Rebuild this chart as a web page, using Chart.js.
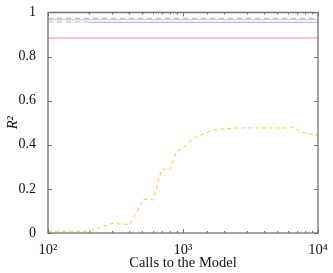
<!DOCTYPE html>
<html>
<head>
<meta charset="utf-8">
<script src="https://cdn.jsdelivr.net/npm/chart.js@4"></script>
<style>
  html, body { margin: 0; padding: 0; background: #fff; }
  #wrap { width: 333px; height: 273px; }
</style>
</head>
<body>
<div id="wrap"><canvas id="r2Chart"></canvas></div>
<script>
// x values (calls to the model) and R^2 for the learned curve
const calls = [100, 205, 296, 405, 508, 603, 695, 801, 898, 1000, 1192, 1413, 1676, 2356, 6200, 6560, 7360, 9230, 10000];
const r2Curve = [0.008, 0.008, 0.043, 0.039, 0.153, 0.150, 0.289, 0.289, 0.37, 0.385, 0.43, 0.448, 0.467, 0.476, 0.476, 0.483, 0.46, 0.445, 0.443];

// horizontal reference levels
const fullRange = [100, 10000];
const refGray = [0.996, 0.996];
const refOrange = [0.973, 0.973];
const refBlue = [0.967, 0.967];
const lavenderDashX = [100, 200];
const refLavenderDash = [0.957, 0.957];
const lavenderSolidX = [200, 10000];
const refLavender = [0.955, 0.955];
const refPink = [0.884, 0.884];

const yTicks = [0, 0.2, 0.4, 0.6, 0.8, 1];

function pts(xs, ys) {
    return xs.map((x, i) => ({ x: x, y: ys[i] }));
}

function flatLine(xs, ys, color, dash) {
    return {
        data: pts(xs, ys),
        borderColor: color,
        borderWidth: 1,
        borderDash: dash,
        pointRadius: 0,
        fill: false
    };
}

// pgfplots-style frame with inward ticks
const framePlugin = {
    id: 'frame',
    afterDraw(chart) {
        const ctx = chart.ctx;
        const a = chart.chartArea;
        const xs = chart.scales.x;
        const ys = chart.scales.y;
        ctx.save();
        ctx.strokeStyle = '#707070';
        ctx.lineWidth = 1;
        ctx.beginPath();
        xs.ticks.forEach(t => {
            const px = Math.round(xs.getPixelForValue(t.value)) + 0.5;
            const lg = Math.log10(t.value);
            const len = Math.abs(lg - Math.round(lg)) < 1e-9 ? 4 : 2;
            ctx.moveTo(px, a.bottom);
            ctx.lineTo(px, a.bottom - len);
            ctx.moveTo(px, a.top);
            ctx.lineTo(px, a.top + len);
        });
        yTicks.forEach(v => {
            const py = Math.round(ys.getPixelForValue(v)) + 0.5;
            ctx.moveTo(a.left, py);
            ctx.lineTo(a.left + 4, py);
            ctx.moveTo(a.right, py);
            ctx.lineTo(a.right - 4, py);
        });
        ctx.stroke();
        ctx.lineWidth = 1.3;
        ctx.strokeRect(a.left, a.top, a.right - a.left, a.bottom - a.top);
        ctx.restore();
    }
};

const serif = "'Liberation Serif', 'DejaVu Serif', serif";

new Chart(document.getElementById('r2Chart'), {
    type: 'line',
    data: {
        datasets: [
            flatLine(fullRange, refGray, '#a8a8a8', [1, 1.5]),
            flatLine(fullRange, refOrange, '#f5a36c', [5, 4]),
            flatLine(fullRange, refBlue, '#a9c9f2', []),
            flatLine(lavenderDashX, refLavenderDash, '#b3aaf3', [5, 4]),
            flatLine(lavenderSolidX, refLavender, '#b3aaf3', []),
            flatLine(fullRange, refPink, '#f285b2', []),
            {
                data: pts(calls, r2Curve),
                borderColor: '#ffc53d',
                borderWidth: 1,
                borderDash: [4, 3],
                pointRadius: 0,
                tension: 0,
                fill: false
            }
        ]
    },
    options: {
        responsive: true,
        maintainAspectRatio: false,
        animation: false,
        layout: { padding: { left: 4, right: 15, top: 9, bottom: 0 } },
        plugins: {
            legend: { display: false },
            tooltip: { enabled: false }
        },
        scales: {
            x: {
                type: 'logarithmic',
                min: 100,
                max: 10000,
                grid: { display: false },
                border: { display: false },
                ticks: {
                    color: '#111',
                    font: { family: serif, size: 14.5 },
                    padding: 0,
                    maxRotation: 0,
                    autoSkip: false,
                    callback: function (v) {
                        const lg = Math.log10(v);
                        if (Math.abs(lg - Math.round(lg)) > 1e-9) return '';
                        return { 2: '10²', 3: '10³', 4: '10⁴' }[Math.round(lg)];
                    }
                },
                title: {
                    display: true,
                    text: 'Calls to the Model',
                    color: '#111',
                    font: { family: serif, size: 14.5 },
                    padding: { top: 0, bottom: 1 }
                },
                afterFit: s => { s.height = 40; }
            },
            y: {
                min: 0,
                max: 1,
                grid: { display: false },
                border: { display: false },
                afterBuildTicks: s => { s.ticks = yTicks.map(v => ({ value: v })); },
                ticks: {
                    color: '#111',
                    font: { family: serif, size: 14 },
                    padding: 4,
                    callback: v => String(v)
                },
                title: {
                    display: true,
                    text: 'R²',
                    color: '#111',
                    font: { family: serif, size: 14.5, style: 'italic' },
                    padding: { top: 0, bottom: 0 }
                },
                afterFit: s => { s.width = 44; }
            }
        }
    },
    plugins: [framePlugin]
});
</script>
</body>
</html>
